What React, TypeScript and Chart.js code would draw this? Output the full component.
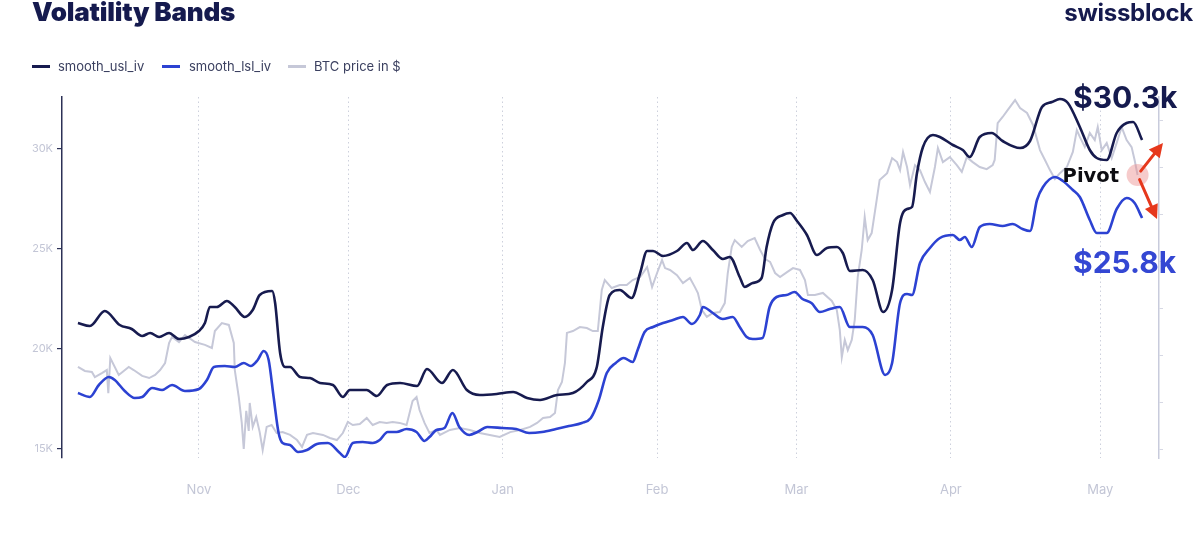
import React, { useEffect, useRef } from "react";
import { Chart, registerables } from "chart.js";

Chart.register(...registerables);

// x positions: days since 2022-10-01
const monthTickDays = [31, 61, 92, 123, 151, 182, 212];
const monthTickLabels = ["Nov", "Dec", "Jan", "Feb", "Mar", "Apr", "May"];
const bandTickValues = [15, 20, 25, 30]; // $K, left axis
const priceTickValues = [16, 18, 20, 22, 24, 26, 28, 30]; // $K, right axis (BTC)

const uslDays = [6.7, 9.1, 12.1, 15.1, 17.5, 19.6, 21.2, 23.0, 25.0, 27.0, 29.0, 31.0, 32.2, 33.2, 34.6, 36.6, 38.2, 40.2, 41.8, 43.2, 45.7, 46.3, 47.3, 48.3, 49.3, 51.3, 53.3, 55.3, 57.9, 59.9, 61.3, 64.7, 66.7, 68.8, 71.4, 74.8, 76.8, 79.8, 82.0, 84.8, 87.4, 90.8, 94.1, 96.9, 99.5, 102.9, 106.1, 108.9, 110.9, 112.1, 113.5, 115.5, 117.9, 119.6, 121.0, 122.2, 124.2, 127.0, 129.0, 130.2, 132.2, 134.2, 136.2, 137.6, 139.6, 140.6, 142.2, 144.0, 145.0, 146.3, 148.3, 149.7, 151.1, 153.1, 155.1, 157.1, 159.1, 160.3, 161.7, 164.3, 166.3, 168.4, 170.2, 171.8, 173.2, 174.2, 175.2, 176.4, 178.4, 179.8, 182.4, 184.4, 185.8, 187.8, 190.2, 192.4, 195.9, 197.9, 200.3, 202.3, 203.9, 205.5, 207.9, 209.9, 211.3, 213.3, 215.3, 217.3, 218.6, 220.4];
const uslK = [21.3, 21.15, 21.9, 21.2, 21.0, 20.65, 20.8, 20.6, 20.8, 20.5, 20.6, 20.9, 21.3, 22.1, 22.1, 22.4, 22.1, 21.6, 21.95, 22.7, 22.9, 22.3, 19.8, 19.1, 19.1, 18.6, 18.55, 18.3, 18.2, 17.6, 17.95, 17.95, 17.65, 18.2, 18.3, 18.15, 19.0, 18.3, 18.95, 17.95, 17.7, 17.75, 17.85, 17.55, 17.45, 17.7, 17.8, 18.35, 19.1, 21.1, 22.7, 22.95, 22.55, 23.8, 24.9, 24.9, 24.65, 24.9, 25.3, 24.95, 25.4, 24.95, 24.5, 24.6, 23.6, 23.1, 23.3, 23.55, 25.1, 26.3, 26.7, 26.8, 26.4, 25.7, 24.7, 25.05, 25.1, 24.8, 23.9, 23.95, 23.45, 21.85, 22.95, 26.3, 27.0, 27.1, 28.8, 30.1, 30.7, 30.6, 30.2, 29.95, 29.6, 30.6, 30.8, 30.4, 30.05, 30.4, 32.1, 32.35, 32.5, 32.3, 31.1, 29.95, 29.55, 29.45, 30.8, 31.3, 31.35, 30.45];

const lslDays = [6.7, 9.1, 10.9, 12.9, 14.1, 16.1, 18.1, 19.6, 21.6, 23.6, 25.6, 28.2, 31.0, 32.6, 34.0, 36.2, 38.2, 40.0, 41.4, 42.8, 44.0, 45.0, 46.0, 47.0, 47.8, 49.3, 50.9, 52.7, 54.7, 56.9, 59.3, 60.3, 61.9, 63.9, 65.9, 67.3, 68.9, 70.7, 72.7, 74.7, 76.3, 77.3, 78.7, 80.3, 81.9, 83.3, 85.3, 86.9, 88.9, 91.9, 94.7, 97.3, 99.9, 102.7, 105.3, 107.9, 109.7, 111.3, 112.9, 114.7, 116.3, 118.1, 119.1, 120.5, 122.2, 124.2, 126.2, 128.2, 130.0, 131.6, 132.2, 134.2, 136.2, 138.2, 139.6, 141.0, 142.2, 144.2, 145.6, 147.0, 149.0, 150.6, 152.2, 154.0, 155.7, 157.7, 159.7, 161.7, 164.3, 166.3, 168.8, 170.2, 171.8, 173.2, 174.2, 175.8, 177.8, 179.8, 182.4, 183.8, 184.8, 186.2, 187.8, 189.8, 192.4, 194.4, 196.4, 197.9, 199.3, 200.5, 202.9, 204.5, 206.5, 207.9, 209.9, 211.3, 213.3, 215.3, 217.3, 218.9, 220.4];
const lslK = [17.8, 17.6, 18.2, 18.6, 18.45, 17.9, 17.55, 17.6, 18.05, 17.95, 18.2, 17.9, 18.0, 18.45, 19.1, 19.15, 19.1, 19.3, 19.15, 19.45, 19.9, 19.45, 17.6, 15.8, 15.3, 15.2, 14.85, 14.95, 15.25, 15.3, 14.8, 14.6, 15.3, 15.35, 15.3, 15.45, 15.85, 15.85, 16.0, 15.85, 15.4, 15.6, 15.95, 16.05, 16.8, 16.1, 15.7, 15.85, 16.1, 16.05, 16.0, 15.8, 15.85, 16.0, 16.15, 16.3, 16.55, 17.45, 18.8, 19.3, 19.55, 19.35, 19.95, 20.85, 21.1, 21.3, 21.45, 21.6, 21.25, 21.7, 22.1, 21.8, 21.5, 21.6, 21.1, 20.6, 20.5, 20.55, 22.1, 22.6, 22.7, 22.85, 22.5, 22.3, 21.85, 22.0, 22.1, 21.1, 21.1, 20.7, 18.7, 19.3, 22.3, 22.75, 22.7, 24.3, 25.05, 25.55, 25.7, 25.45, 25.6, 25.1, 26.1, 26.25, 26.15, 26.25, 26.0, 25.9, 27.45, 28.1, 28.6, 28.4, 27.95, 27.6, 26.45, 25.8, 25.8, 27.0, 27.55, 27.3, 26.55];

const btcDays = [6.7, 8.1, 9.5, 10.1, 11.5, 12.5, 12.8, 13.2, 14.9, 16.9, 17.9, 19.6, 21.0, 22.2, 23.2, 24.2, 25.0, 25.6, 27.0, 28.2, 30.2, 32.2, 33.6, 34.2, 35.6, 37.0, 38.0, 38.2, 39.0, 39.6, 40.0, 40.5, 41.0, 41.2, 41.8, 42.5, 43.2, 43.8, 44.6, 45.6, 46.6, 47.8, 49.3, 50.7, 51.7, 52.7, 53.9, 55.9, 57.3, 58.7, 59.9, 60.9, 61.9, 63.3, 64.7, 65.9, 67.3, 68.7, 69.9, 71.3, 72.7, 73.3, 73.9, 74.7, 75.3, 76.3, 77.3, 78.7, 79.4, 81.4, 83.4, 85.4, 87.4, 89.4, 91.4, 93.5, 95.5, 97.5, 98.9, 100.1, 101.5, 102.5, 103.1, 103.9, 104.5, 104.9, 106.1, 107.5, 108.9, 110.1, 111.1, 111.9, 112.5, 113.9, 115.5, 116.9, 118.1, 119.6, 121.0, 122.0, 123.0, 124.0, 124.6, 125.6, 127.0, 128.2, 129.6, 130.6, 131.2, 132.0, 133.0, 134.2, 135.6, 136.6, 137.2, 138.0, 138.6, 140.0, 141.2, 142.6, 143.7, 144.7, 145.7, 146.7, 147.7, 149.1, 150.3, 151.7, 152.7, 153.3, 154.7, 156.3, 158.1, 159.1, 159.7, 160.1, 160.7, 161.3, 162.1, 162.7, 163.3, 164.1, 164.7, 165.3, 166.1, 167.1, 167.7, 169.2, 170.2, 171.2, 171.8, 172.4, 173.2, 173.8, 174.8, 175.8, 176.8, 177.8, 178.8, 179.4, 180.4, 181.8, 183.2, 184.2, 185.2, 186.4, 187.8, 189.2, 190.4, 190.8, 191.4, 192.4, 193.4, 194.9, 195.9, 197.3, 198.5, 199.9, 200.9, 201.9, 202.9, 203.9, 205.3, 206.5, 207.3, 207.9, 208.9, 209.9, 210.9, 211.5, 212.3, 213.3, 214.3, 215.3, 216.3, 217.3, 218.3, 218.9, 219.5];
const btcK = [19.49, 19.32, 19.28, 19.06, 19.23, 19.36, 18.38, 19.87, 19.15, 19.49, 19.36, 19.11, 19.02, 19.15, 19.36, 19.66, 20.51, 20.77, 20.55, 20.85, 20.55, 20.43, 20.3, 21.02, 21.36, 21.28, 20.51, 19.36, 18.21, 17.11, 16.0, 17.62, 16.77, 17.96, 16.94, 17.36, 16.72, 15.96, 16.94, 17.02, 16.68, 16.72, 16.6, 16.38, 16.09, 16.6, 16.68, 16.6, 16.47, 16.38, 16.68, 17.15, 17.02, 17.06, 17.32, 17.02, 17.15, 17.11, 17.15, 17.11, 17.02, 17.53, 18.04, 18.21, 17.66, 17.11, 16.68, 16.81, 16.6, 16.81, 16.89, 16.81, 16.68, 16.6, 16.51, 16.72, 16.81, 16.94, 17.11, 17.32, 17.36, 17.53, 18.51, 18.85, 19.66, 20.94, 21.02, 21.19, 21.15, 21.02, 21.02, 22.77, 23.19, 22.85, 22.98, 22.98, 23.19, 23.32, 23.74, 22.89, 23.49, 24.04, 23.7, 23.62, 23.4, 23.06, 23.28, 22.89, 22.64, 21.91, 21.62, 21.79, 21.83, 22.21, 23.49, 24.6, 24.89, 24.6, 24.85, 24.98, 24.47, 24.08, 23.96, 23.49, 23.32, 23.53, 23.7, 23.62, 23.19, 22.55, 22.55, 22.64, 22.3, 21.91, 21.06, 19.91, 20.64, 20.21, 20.64, 21.49, 23.32, 24.47, 25.87, 24.89, 25.19, 26.59, 27.45, 27.74, 28.38, 28.21, 27.87, 28.64, 28.0, 27.23, 28.08, 27.87, 27.36, 26.94, 28.0, 28.81, 28.21, 28.42, 28.08, 27.79, 28.42, 28.21, 28.0, 27.91, 28.08, 28.3, 29.87, 30.13, 30.42, 30.85, 30.51, 30.3, 29.79, 28.72, 28.3, 27.87, 27.49, 27.74, 28.0, 28.64, 29.57, 29.28, 28.85, 29.45, 29.15, 29.7, 28.72, 29.02, 28.38, 29.02, 29.7, 29.15, 28.85, 28.3, 27.66];

const seriesNames = ["smooth_usl_iv", "smooth_lsl_iv", "BTC price in $"];
const seriesColors = ["#171b4f", "#2c42d2", "#c6c8d8"];

const upperLabel = "$30.3k";
const lowerLabel = "$25.8k";
const pivotLabel = "Pivot";
const upperTarget = { day: 224.6, k: 30.3 }; // left (band) axis
const lowerTarget = { day: 223.4, k: 26.5 };

const annotationPlugin = {
  id: "pivotAnnotations",
  afterDatasetsDraw(chart: any) {
    const { ctx, scales, chartArea } = chart;
    const xs = scales.x;
    const ys = scales.y;
    const y2 = scales.y2;
    const n = btcDays.length - 1;
    const cx = xs.getPixelForValue(btcDays[n]);
    const cy = y2.getPixelForValue(btcK[n]);
    ctx.save();
    ctx.beginPath();
    ctx.arc(cx, cy, 11, 0, Math.PI * 2);
    ctx.fillStyle = "rgba(236,140,140,0.45)";
    ctx.fill();

    const red = "#e6381c";
    const drawArrow = (tx: number, ty: number) => {
      const dx = tx - cx;
      const dy = ty - cy;
      const len = Math.hypot(dx, dy);
      const ux = dx / len;
      const uy = dy / len;
      const sx = cx + ux * 5;
      const sy = cy + uy * 5;
      const head = 14;
      const half = 7;
      const bx = tx - ux * head;
      const by = ty - uy * head;
      ctx.strokeStyle = red;
      ctx.lineWidth = 3;
      ctx.lineCap = "round";
      ctx.beginPath();
      ctx.moveTo(sx, sy);
      ctx.lineTo(bx + ux * 2, by + uy * 2);
      ctx.stroke();
      ctx.beginPath();
      ctx.moveTo(tx, ty);
      ctx.lineTo(bx - uy * half, by + ux * half);
      ctx.lineTo(bx + uy * half, by - ux * half);
      ctx.closePath();
      ctx.fillStyle = red;
      ctx.fill();
    };
    drawArrow(xs.getPixelForValue(upperTarget.day), ys.getPixelForValue(upperTarget.k));
    drawArrow(xs.getPixelForValue(lowerTarget.day), ys.getPixelForValue(lowerTarget.k));

    ctx.textAlign = "left";
    ctx.textBaseline = "alphabetic";
    ctx.font = "bold 30px Inter, 'Liberation Sans', sans-serif";
    ctx.fillStyle = "#151a4e";
    ctx.fillText(upperLabel, chartArea.right - 86, chartArea.top + 11);
    ctx.fillStyle = "#3447d3";
    ctx.fillText(lowerLabel, chartArea.right - 86, chartArea.top + 176);
    ctx.font = "bold 19.5px 'DejaVu Sans', sans-serif";
    ctx.fillStyle = "#0d0d12";
    ctx.fillText(pivotLabel, cx - 75, cy + 6.5);
    ctx.restore();
  },
};

export default function App() {
  const canvasRef = useRef<HTMLCanvasElement | null>(null);

  useEffect(() => {
    if (!canvasRef.current) return;
    const tickColor = "#c3c6d6";
    const chart = new Chart(canvasRef.current, {
      type: "line",
      data: {
        datasets: [
          {
            label: seriesNames[0],
            data: uslDays.map((d, i) => ({ x: d, y: uslK[i] })),
            borderColor: seriesColors[0],
            borderWidth: 2.6,
            pointRadius: 0,
            cubicInterpolationMode: "monotone",
            yAxisID: "y",
          },
          {
            label: seriesNames[1],
            data: lslDays.map((d, i) => ({ x: d, y: lslK[i] })),
            borderColor: seriesColors[1],
            borderWidth: 2.6,
            pointRadius: 0,
            cubicInterpolationMode: "monotone",
            yAxisID: "y",
          },
          {
            label: seriesNames[2],
            data: btcDays.map((d, i) => ({ x: d, y: btcK[i] })),
            borderColor: seriesColors[2],
            borderWidth: 2,
            pointRadius: 0,
            tension: 0,
            yAxisID: "y2",
          },
        ],
      },
      options: {
        responsive: false,
        animation: false,
        layout: { padding: { top: 97, left: 0, right: 0, bottom: 0 } },
        plugins: {
          legend: { display: false },
          title: { display: false },
          tooltip: { enabled: false },
        },
        scales: {
          x: {
            type: "linear",
            min: 3.5,
            max: 223.8,
            afterBuildTicks: (scale: any) => {
              scale.ticks = monthTickDays.map((v) => ({ value: v }));
            },
            afterFit: (scale: any) => {
              scale.height = 79;
            },
            ticks: {
              autoSkip: false,
              maxRotation: 0,
              color: tickColor,
              padding: 24,
              font: { family: "Inter, sans-serif", size: 13 },
              callback: (_v: any, i: number) => monthTickLabels[i] ?? "",
            },
            grid: { color: "#cdd0dc", lineWidth: 1, drawTicks: false },
            border: { display: false, dash: [1.5, 3] },
          },
          y: {
            type: "linear",
            position: "left",
            min: 14.55,
            max: 32.6,
            afterBuildTicks: (scale: any) => {
              scale.ticks = bandTickValues.map((v) => ({ value: v }));
            },
            afterFit: (scale: any) => {
              scale.width = 62;
            },
            ticks: {
              color: tickColor,
              padding: 4,
              font: { family: "Inter, sans-serif", size: 11 },
              callback: (v: any) => `${v}K`,
            },
            grid: {
              drawOnChartArea: false,
              drawTicks: true,
              tickLength: 5,
              color: "#2c3156",
              lineWidth: 1.2,
            },
            border: { display: true, color: "#2c3156", width: 1.5 },
          },
          y2: {
            type: "linear",
            position: "right",
            min: 15.617,
            max: 30.98,
            afterBuildTicks: (scale: any) => {
              scale.ticks = priceTickValues.map((v) => ({ value: v }));
            },
            afterFit: (scale: any) => {
              scale.width = 41;
            },
            ticks: { display: false },
            grid: {
              drawOnChartArea: false,
              drawTicks: true,
              tickLength: 4,
              color: "#d6d8e4",
              lineWidth: 1,
            },
            border: { display: true, color: "#c8cbdc", width: 1.5 },
          },
        },
      },
      plugins: [annotationPlugin],
    } as any);
    return () => chart.destroy();
  }, []);

  const legendLeft = [32, 162, 288];
  const legendTextLeft = [58, 189, 314];

  return (
    <div
      style={{
        position: "absolute",
        left: 0,
        top: 0,
        width: 1200,
        height: 537,
        background: "#ffffff",
        overflow: "hidden",
        fontFamily: "Inter, sans-serif",
      }}
    >
      <canvas ref={canvasRef} width={1200} height={537} style={{ position: "absolute", left: 0, top: 0 }} />
      <div
        style={{
          position: "absolute",
          left: 32,
          top: -1,
          fontSize: 26,
          lineHeight: "25px",
          fontWeight: 900,
          letterSpacing: "-0.2px",
          color: "#151a4e",
          whiteSpace: "nowrap",
        }}
      >
        Volatility Bands
      </div>
      <div
        style={{
          position: "absolute",
          right: 7,
          top: 1,
          fontSize: 24,
          lineHeight: "24px",
          fontWeight: 700,
          letterSpacing: "-0.3px",
          color: "#151a4e",
          whiteSpace: "nowrap",
        }}
      >
        swissblock
      </div>
      {seriesNames.map((name, i) => (
        <React.Fragment key={name}>
          <div
            style={{
              position: "absolute",
              left: legendLeft[i],
              top: 65,
              width: 18,
              height: 2.5,
              background: seriesColors[i],
            }}
          />
          <div
            style={{
              position: "absolute",
              left: legendTextLeft[i],
              top: 58,
              fontSize: 13,
              lineHeight: "16px",
              color: "#3b4060",
              whiteSpace: "nowrap",
            }}
          >
            {name}
          </div>
        </React.Fragment>
      ))}
    </div>
  );
}
